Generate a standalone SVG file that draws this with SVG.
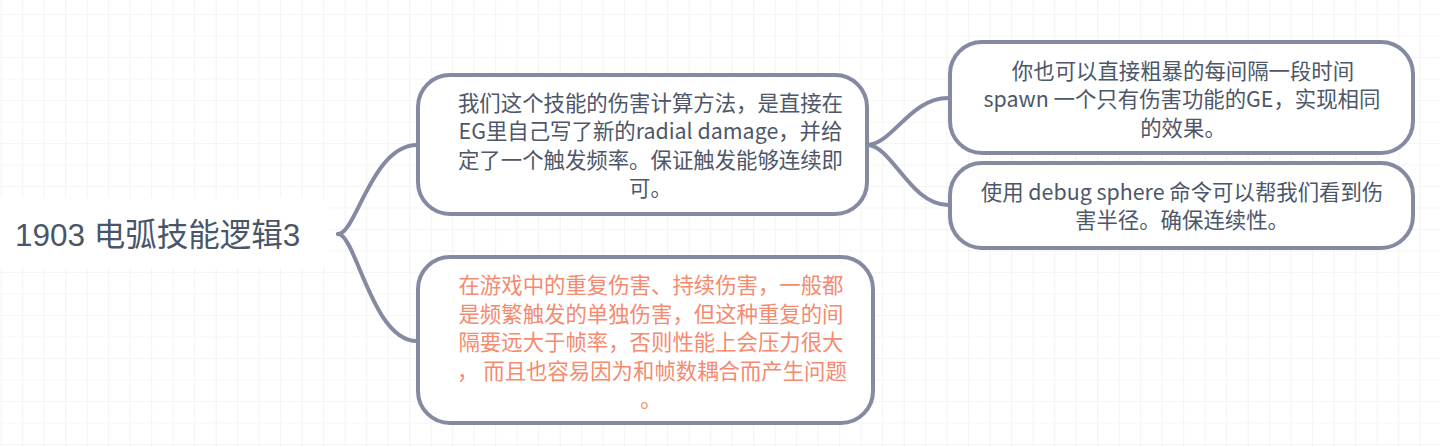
<svg xmlns="http://www.w3.org/2000/svg" width="1440" height="447" viewBox="0 0 1440 447">
<defs>
<pattern id="grid" x="0.7" y="14" width="21.5" height="21.5" patternUnits="userSpaceOnUse">
<path d="M0,0 H21.5 M0,0 V21.5" fill="none" stroke="#ececec" stroke-width="1.2"/>
</pattern>
<style>
.box{fill:#ffffff;stroke:#858aa3;stroke-width:4}
.edge{fill:none;stroke:#858aa3;stroke-width:4;stroke-linecap:round}
.t{font-family:"Noto Sans CJK SC","Noto Sans",sans-serif;font-size:21.4px;fill:#4d5769;text-anchor:middle}
.o{fill:#f58a6f}
.rt{font-family:"Liberation Sans","Noto Sans CJK SC",sans-serif;font-size:31.5px;fill:#4a5668}
</style>
</defs>
<rect width="1440" height="447" fill="#ffffff"/>
<rect width="1440" height="447" fill="url(#grid)"/>
<g id="connectors">
<path class="edge" d="M338,234 C356,234 372,145 417,145"/>
<path class="edge" d="M338,234 C356,234 372,341 417,341"/>
<path class="edge" d="M867,145 C892,145 910,98 948,98"/>
<path class="edge" d="M867,145 C892,145 910,205 948,205"/>
</g>
<g id="root">
<rect x="-12" y="198" width="342" height="70" rx="12" fill="#ffffff"/>
<text class="rt" x="15" y="245.5">1903 电弧技能逻辑3</text>
</g>
<g id="node1">
<rect class="box" x="418" y="75" width="449" height="139" rx="32"/>
<text class="t" x="650.5" y="111"><tspan x="650.5">我们这个技能的伤害计算方法，是直接在</tspan><tspan x="650.5" dy="28.3">EG里自己写了新的radial damage，并给</tspan><tspan x="650.5" dy="28.3">定了一个触发频率。保证触发能够连续即</tspan><tspan x="650.5" dy="28.3">可。</tspan></text>
</g>
<g id="node2">
<rect class="box" x="950" y="42" width="463" height="111" rx="32"/>
<text class="t" x="1183" y="79"><tspan x="1183">你也可以直接粗暴的每间隔一段时间</tspan><tspan x="1182" dy="28.3">spawn 一个只有伤害功能的GE，实现相同</tspan><tspan x="1183" dy="28.3">的效果。</tspan></text>
</g>
<g id="node3">
<rect class="box" x="418" y="257" width="455" height="166" rx="32"/>
<text class="t o" x="651" y="293"><tspan x="651">在游戏中的重复伤害、持续伤害，一般都</tspan><tspan x="651" dy="28.5">是频繁触发的单独伤害，但这种重复的间</tspan><tspan x="651" dy="28.5">隔要远大于帧率，否则性能上会压力很大</tspan><tspan x="652" dy="28.5">， 而且也容易因为和帧数耦合而产生问题</tspan><tspan x="651" dy="28.5">。</tspan></text>
</g>
<g id="node4">
<rect class="box" x="950" y="163" width="463" height="85" rx="32"/>
<text class="t" x="1182" y="200"><tspan x="1182">使用 debug sphere 命令可以帮我们看到伤</tspan><tspan x="1182" dy="28">害半径。确保连续性。</tspan></text>
</g>
</svg>
